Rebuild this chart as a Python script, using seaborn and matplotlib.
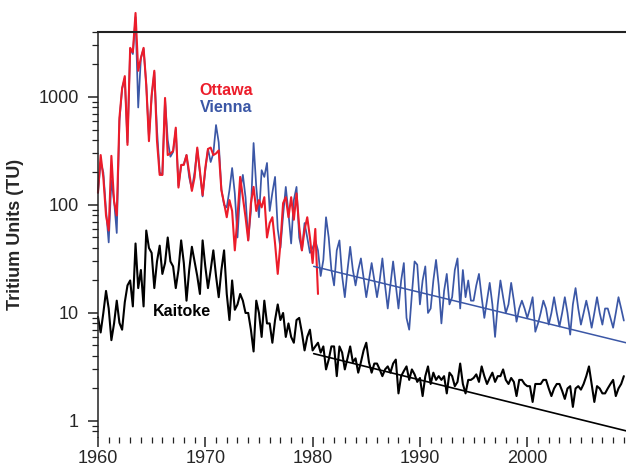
import numpy as np
import pandas as pd
import matplotlib
matplotlib.use('Agg')
import matplotlib.pyplot as plt
import seaborn as sns
from matplotlib.ticker import LogLocator, FixedLocator, NullFormatter

# valori trimestrali (TU), a partire dal 1960.0
ottawa = [
    130, 290, 180, 80,   58, 285, 108, 80,   640, 1200, 1560, 360,
    2850, 2600, 6000, 1750,   2300, 2850, 1290, 390,   1040, 1750, 390, 190,
    190, 980, 290, 300,   316, 520, 145, 235,   235, 290, 200, 135,
    180, 340, 205, 123,   220, 330, 340, 290,   300, 320, 137, 104,
    77, 111, 88, 38,   77, 182, 118, 77,   47, 104, 147, 88,
    111, 95, 118, 50,   68, 77, 44, 23,   44, 104, 118, 77,
    118, 73, 128, 63,   38, 59, 77, 50,   29, 60, 15,
]
vienna = [
    130, 250, 200, 90,   45, 170, 110, 55,   600, 1200, 1500, 380,
    2800, 2500, 5500, 800,   2300, 2800, 1300, 420,   1000, 1700, 500, 200,
    190, 950, 400, 280,   310, 500, 150, 230,   240, 290, 180, 140,
    200, 330, 200, 120,   210, 330, 250, 300,   550, 380, 140, 100,
    95, 137, 220, 128,   50, 137, 190, 118,   47, 88, 375, 147,
    77, 210, 182, 245,   88, 130, 182, 60,   40, 80, 147, 84,
    44, 111, 147, 50,   38, 68, 50, 36,   40, 47, 38, 22,
    31, 77, 50, 25,   18, 38, 47, 22,   14, 25, 41, 25,
    18, 25, 32, 21,   14, 20, 29, 20,   14, 20, 32, 18,
    11, 18, 30, 18,   11, 20, 29, 9,   7, 15, 30, 28,
    12, 20, 27, 10,   11, 20, 31, 18,   8, 16, 23, 12,
    14, 25, 32, 11,   25, 14, 20, 13,   13, 18, 23, 14,
    9, 13, 19, 12,   6, 12, 20, 14,   10, 12, 19, 13,
    8.3, 11, 13, 11,   9, 11, 14, 6.7,   8, 10, 13, 11,
    7.8, 10, 14, 10,   7.5, 10, 14, 10,   6.3, 12, 17, 11,
    7.8, 10, 13, 10,   7.3, 10, 14, 10,   7.8, 11, 11, 9,
    7.3, 10, 14, 11,   8.5,
]
kaitoke = [
    9.2, 6.6, 10, 16,   11, 5.6, 8, 13,   8.1, 7, 12.6, 18,
    20, 11.5, 44, 17,   25, 11.5, 58, 40,   36, 17, 30, 42,
    23, 29, 50, 30,   27, 17, 25, 47,   29, 13, 25, 41,
    30, 22, 15, 47,   27, 17, 25, 38,   22, 14, 25, 38,
    15, 8.6, 20, 10.7,   12, 15, 13, 10,   10, 7, 4.4, 13,
    10, 6, 13, 8,   8, 5.3, 8.6, 12,   8.6, 10, 6, 8,
    6, 5.3, 8.6, 9,   6.6, 4.5, 6, 7,   4.5, 4.9, 5.3, 4.3,
    4.9, 3, 3.7, 4.9,   4.9, 2.6, 4.9, 4.3,   3, 3.8, 4.9, 3.5,
    3.8, 2.8, 3.5, 4.5,   5.3, 3.5, 2.8, 3.4,   3.4, 3, 2.6, 3,
    3.2, 2.8, 3.4, 3.7,   1.8, 2.6, 2.9, 3.2,   2.4, 3, 2.7, 2.3,
    2.5, 1.7, 2.6, 3.2,   2.2, 2.8, 2.4, 2.6,   2.4, 2.6, 1.8, 2.8,
    2.6, 2.1, 2.3, 3.4,   2.2, 1.8, 2.4, 2.4,   2.5, 2.7, 2.3, 3.2,
    2.6, 2.2, 2.5, 2.8,   2.3, 2.6, 2.6, 3,   2.4, 2.2, 2.5, 2.3,
    1.7, 2.4, 2.4, 2.2,   2.1, 2.1, 1.5, 2.2,   2.2, 2.2, 2.4, 2.4,
    2, 1.7, 2, 2.2,   2.2, 1.9, 1.6, 2,   2.1, 1.35, 2, 2.1,
    1.95, 2.2, 2.6, 3.2,   2.2, 1.5, 2.1, 2,   1.8, 1.8, 2, 2.2,
    2.4, 1.7, 2, 2.2,   2.6,
]

# rette di decadimento (estremi)
anni_decadimento = [1980.1, 2009.2]
vienna_decadimento = [27, 5.3]
kaitoke_decadimento = [4.2, 0.81]

anno_inizio = 1960
passo = 0.25


def tabella(valori):
    anni = anno_inizio + passo * np.arange(len(valori))
    return pd.DataFrame({'anno': anni, 'TU': valori})


sns.set_style('ticks')
plt.rcParams['font.family'] = ['Liberation Sans', 'DejaVu Sans']

ROSSO = '#ec1c2a'
BLU = '#3b57a6'

fig = plt.figure(figsize=(6.26, 4.69), dpi=100)
ax = fig.add_axes([0.1565, 0.0682, 0.8435, 0.8636])

sns.lineplot(data=tabella(vienna), x='anno', y='TU', ax=ax, color=BLU, lw=1.25, clip_on=False)
sns.lineplot(data=tabella(ottawa), x='anno', y='TU', ax=ax, color=ROSSO, lw=1.5, clip_on=False)
sns.lineplot(data=tabella(kaitoke), x='anno', y='TU', ax=ax, color='black', lw=1.5, clip_on=False)
ax.plot(anni_decadimento, vienna_decadimento, color=BLU, lw=1.1)
ax.plot(anni_decadimento, kaitoke_decadimento, color='black', lw=1.2)

ax.set_yscale('log')
ax.set_xlim(1960, 2009.2)
ax.set_ylim(0.71, 4000)

ax.set_xticks([1960, 1970, 1980, 1990, 2000])
ax.xaxis.set_minor_locator(FixedLocator(np.arange(1960, 2010, 1)))
ax.yaxis.set_major_locator(FixedLocator([1, 10, 100, 1000]))
ax.set_yticklabels(['1', '10', '100', '1000'])
ax.yaxis.set_minor_locator(LogLocator(base=10, subs=np.arange(2, 10)))
ax.yaxis.set_minor_formatter(NullFormatter())

ax.tick_params(axis='both', which='major', length=7, width=1.1, labelsize=13, color='#222222')
ax.tick_params(axis='both', which='minor', length=4, width=0.9, color='#222222')
ax.tick_params(axis='x', pad=2)
ax.tick_params(axis='y', pad=7)

ax.spines['right'].set_visible(False)
ax.spines['bottom'].set_visible(False)
ax.spines['top'].set_linewidth(1.5)
ax.spines['left'].set_linewidth(1.1)
ax.spines['top'].set_color('#222222')
ax.spines['left'].set_color('#222222')

ax.set_xlabel('')
ax.set_ylabel('Tritium Units (TU)', fontsize=13, fontweight='bold', labelpad=10)

ax.text(1971.93, 1137, 'Ottawa', color=ROSSO, fontsize=11.5, fontweight='bold', ha='center', va='center')
ax.text(1971.93, 791, 'Vienna', color=BLU, fontsize=11.5, fontweight='bold', ha='center', va='center')
ax.text(1967.83, 10.4, 'Kaitoke', color='black', fontsize=11.5, fontweight='bold', ha='center', va='center')

fig.savefig('out.png', dpi=100)
